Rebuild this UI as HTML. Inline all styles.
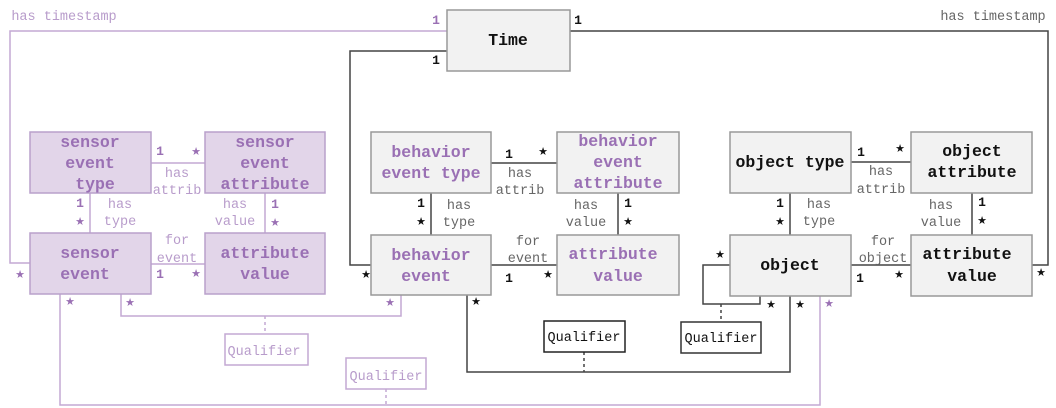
<!DOCTYPE html>
<html><head><meta charset="utf-8"><style>
html,body{margin:0;padding:0;background:#fff;}
svg{display:block;}
.b{font-family:"Liberation Mono",monospace;font-weight:bold;font-size:16.5px;text-anchor:middle;}
.l{font-family:"Liberation Mono",monospace;font-size:13.5px;text-anchor:middle;}
.m{font-family:"Liberation Mono",monospace;font-weight:bold;font-size:13px;text-anchor:middle;}
.s{font-family:"DejaVu Sans",sans-serif;font-size:11px;text-anchor:middle;}
.p{fill:#9a70b4;}
.pl{fill:#b89ccb;}
.k{fill:#111;}
.g{fill:#666;}
</style></head><body>
<svg width="1056" height="408" viewBox="0 0 1056 408" xmlns="http://www.w3.org/2000/svg">
<g fill="none" stroke="#c3a9d3" stroke-width="1.5">
<polyline points="447,31 10,31 10,263 30,263"/>
<line x1="151" y1="163" x2="205" y2="163"/>
<line x1="90" y1="193" x2="90" y2="233"/>
<line x1="265" y1="193" x2="265" y2="233"/>
<line x1="151" y1="264" x2="205" y2="264"/>
<polyline points="121,294 121,316 401,316 401,295"/>
<polyline points="60,294 60,405 820,405 820,296"/>
<line x1="265" y1="316" x2="265" y2="334" stroke-dasharray="3,3"/>
<line x1="386" y1="389" x2="386" y2="405" stroke-dasharray="3,3"/>
<rect x="225" y="334" width="83" height="31" fill="#fff"/>
<rect x="346" y="358" width="80" height="31" fill="#fff"/>
</g>
<g fill="none" stroke="#444" stroke-width="1.5">
<polyline points="447,51 350,51 350,265 371,265"/>
<polyline points="570,31 1048,31 1048,265 1032,265"/>
<line x1="491" y1="163" x2="557" y2="163"/>
<line x1="431" y1="193" x2="431" y2="235"/>
<line x1="618" y1="193" x2="618" y2="235"/>
<line x1="491" y1="265" x2="557" y2="265"/>
<line x1="851" y1="162" x2="911" y2="162"/>
<line x1="790" y1="193" x2="790" y2="235"/>
<line x1="972" y1="193" x2="972" y2="235"/>
<line x1="851" y1="265" x2="911" y2="265"/>
<polyline points="467,295 467,372 790,372 790,296"/>
<polyline points="730,265 703,265 703,304 760,304 760,296"/>
<line x1="584" y1="352" x2="584" y2="372" stroke-dasharray="3,3"/>
<line x1="721" y1="304" x2="721" y2="322" stroke-dasharray="3,3"/>
<rect x="544" y="321" width="81" height="31" fill="#fff" stroke="#222"/>
<rect x="681" y="322" width="80" height="31" fill="#fff" stroke="#333"/>
</g>
<g stroke="#b9a0cb" stroke-width="1.5" fill="#e2d5e9">
<rect x="30" y="132" width="121" height="61"/>
<rect x="205" y="132" width="120" height="61"/>
<rect x="30" y="233" width="121" height="61"/>
<rect x="205" y="233" width="120" height="61"/>
</g>
<g stroke="#999" stroke-width="1.5" fill="#f2f2f2">
<rect x="447" y="10" width="123" height="61"/>
<rect x="371" y="132" width="120" height="61"/>
<rect x="557" y="132" width="122" height="61"/>
<rect x="371" y="235" width="120" height="60"/>
<rect x="557" y="235" width="122" height="60"/>
<rect x="730" y="132" width="121" height="61"/>
<rect x="911" y="132" width="121" height="61"/>
<rect x="730" y="235" width="121" height="61"/>
<rect x="911" y="235" width="121" height="61"/>
</g>
<g class="b p">
<text x="90" y="147">sensor</text><text x="90" y="168">event</text><text x="95" y="189">type</text>
<text x="265" y="147">sensor</text><text x="265" y="168">event</text><text x="265" y="189">attribute</text>
<text x="90" y="258">sensor</text><text x="85" y="279">event</text>
<text x="265" y="258">attribute</text><text x="265" y="279">value</text>
<text x="431" y="157">behavior</text><text x="431" y="178">event type</text>
<text x="618" y="146">behavior</text><text x="618" y="167">event</text><text x="618" y="188">attribute</text>
<text x="431" y="260">behavior</text><text x="426" y="281">event</text>
<text x="613" y="259">attribute</text><text x="618" y="281">value</text>
</g>
<g class="b k">
<text x="508" y="45">Time</text>
<text x="790" y="167">object type</text>
<text x="972" y="156">object</text><text x="972" y="177">attribute</text>
<text x="790" y="270">object</text>
<text x="967" y="259">attribute</text><text x="972" y="281">value</text>
</g>
<g class="l pl">
<text x="64" y="20">has timestamp</text>
<text x="177" y="177">has</text><text x="177" y="194">attrib</text>
<text x="120" y="208">has</text><text x="120" y="225">type</text>
<text x="235" y="208">has</text><text x="235" y="225">value</text>
<text x="177" y="244">for</text><text x="177" y="262">event</text>
<text x="264" y="355">Qualifier</text>
<text x="386" y="380">Qualifier</text>
</g>
<g class="m p">
<text x="436" y="24">1</text>
<text x="160" y="155">1</text>
<text x="80" y="207">1</text>
<text x="275" y="208">1</text>
<text x="160" y="278">1</text>
</g>
<g class="s p">
<text x="196" y="155">★</text>
<text x="80" y="225">★</text>
<text x="275" y="226">★</text>
<text x="196" y="277">★</text>
<text x="20" y="278">★</text>
<text x="70" y="305">★</text><text x="130" y="306">★</text><text x="390" y="306">★</text>
<text x="829" y="307">★</text>
</g>
<g class="l g">
<text x="993" y="20">has timestamp</text>
<text x="520" y="177">has</text><text x="520" y="194">attrib</text>
<text x="459" y="209">has</text><text x="459" y="226">type</text>
<text x="586" y="209">has</text><text x="586" y="226">value</text>
<text x="528" y="245">for</text><text x="528" y="262">event</text>
<text x="881" y="175">has</text><text x="881" y="193">attrib</text>
<text x="819" y="208">has</text><text x="819" y="225">type</text>
<text x="941" y="209">has</text><text x="941" y="226">value</text>
<text x="883" y="245">for</text><text x="883" y="262">object</text>
</g>
<g class="l k"><text x="584" y="341">Qualifier</text><text x="721" y="342">Qualifier</text></g>
<g class="m k">
<text x="436" y="64">1</text><text x="578" y="24">1</text>
<text x="509" y="158">1</text>
<text x="421" y="207">1</text>
<text x="628" y="207">1</text>
<text x="509" y="282">1</text>
<text x="861" y="156">1</text>
<text x="780" y="207">1</text>
<text x="982" y="206">1</text>
<text x="860" y="282">1</text>
</g>
<g class="s k">
<text x="543" y="155">★</text>
<text x="421" y="225">★</text>
<text x="628" y="225">★</text>
<text x="548" y="278">★</text>
<text x="366" y="278">★</text><text x="476" y="305">★</text>
<text x="900" y="152">★</text>
<text x="780" y="225">★</text>
<text x="982" y="224">★</text>
<text x="899" y="278">★</text>
<text x="720" y="258">★</text><text x="771" y="308">★</text><text x="800" y="308">★</text>
<text x="1041" y="276">★</text>
</g>
</svg>
</body></html>
